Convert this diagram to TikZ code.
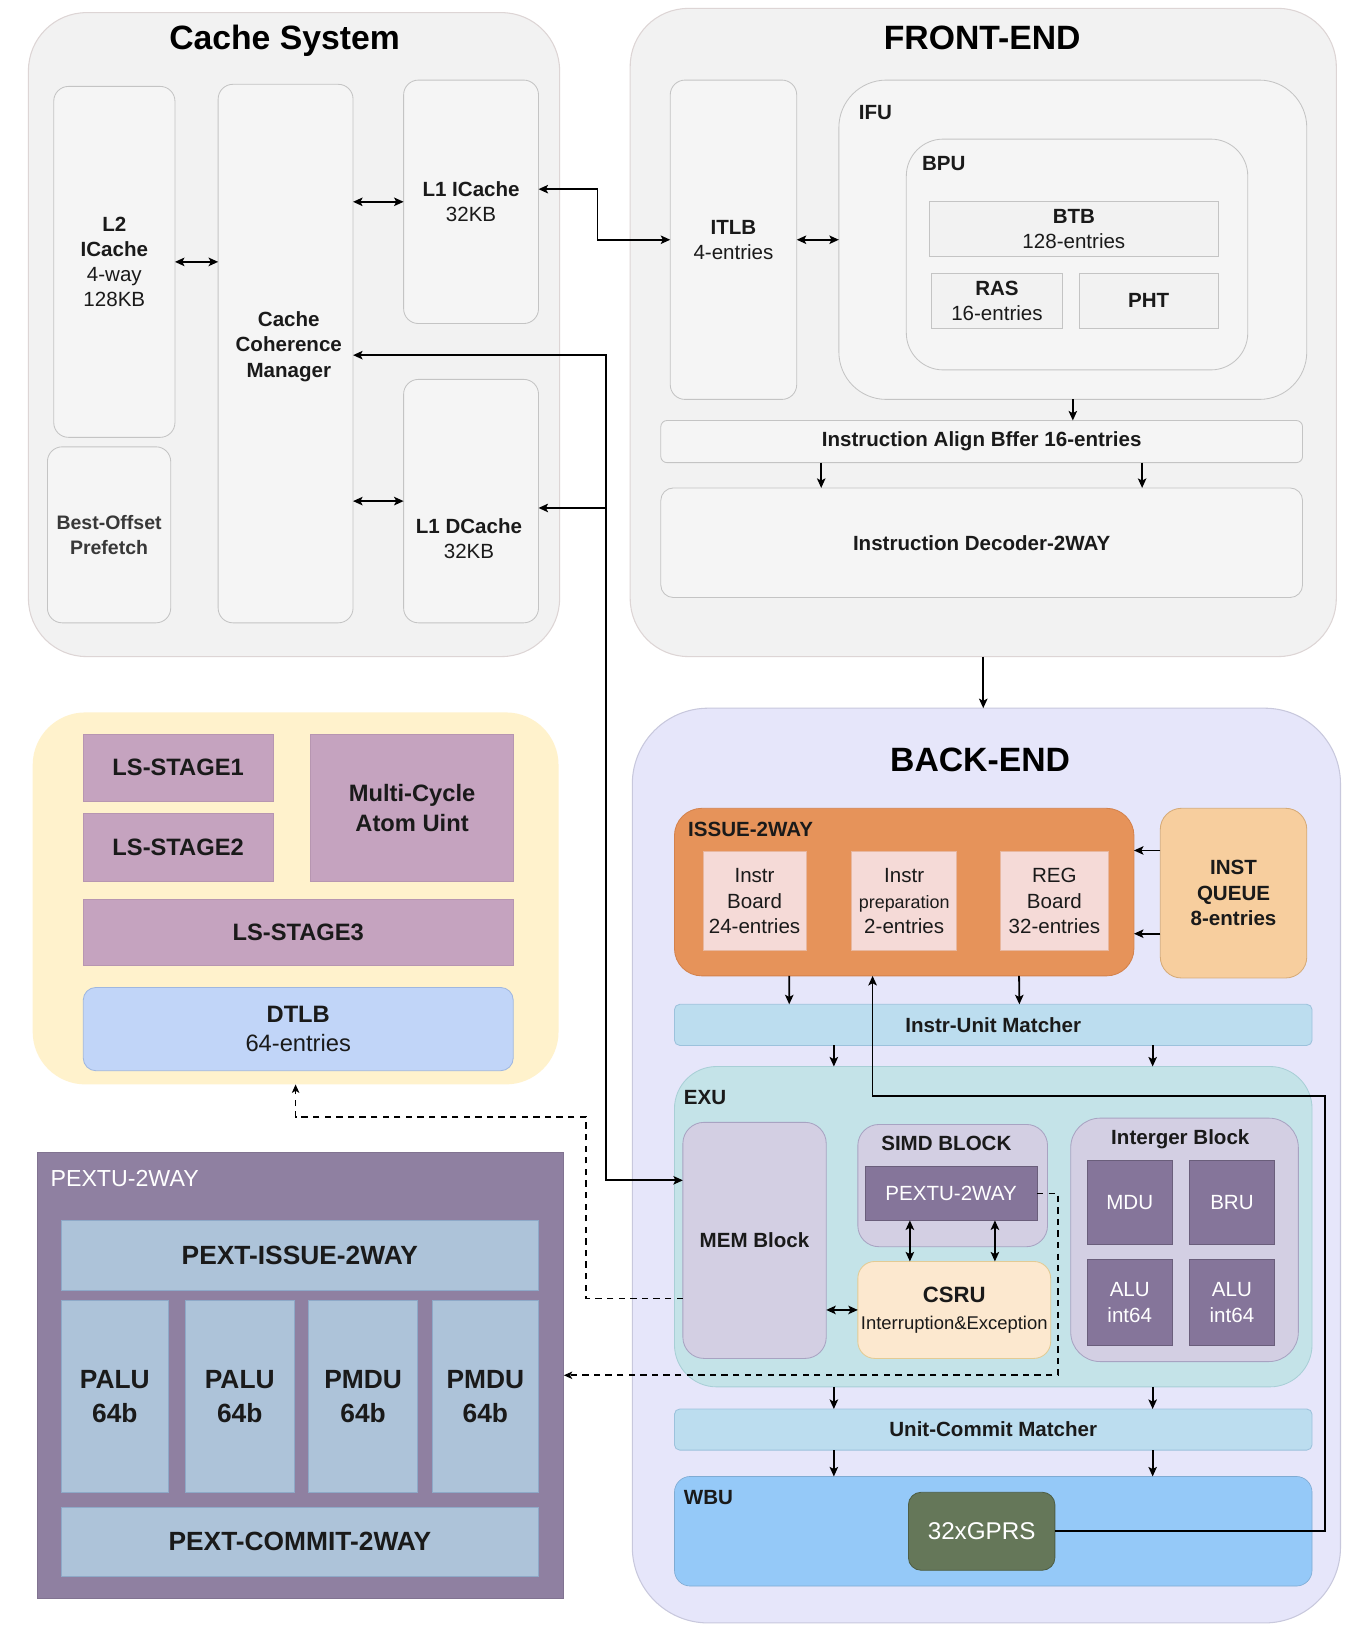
\documentclass[tikz,border=0pt]{standalone}
\usepackage{fontspec}
\setmainfont{Liberation Sans}
\usepackage{tikz}
\usetikzlibrary{calc,positioning,arrows.meta}
\usepackage{xcolor}
\definecolor{panelgray}{HTML}{F2F2F2}
\definecolor{paneledge}{HTML}{DDD5D5}
\definecolor{boxgray}{HTML}{F5F5F5}
\definecolor{boxedge}{HTML}{C4C4C4}
\definecolor{lsyellow}{HTML}{FFF2CC}
\definecolor{lsmauve}{HTML}{C5A3BF}
\definecolor{lsmauveedge}{HTML}{B796B1}
\definecolor{dtlbblue}{HTML}{C1D5F8}
\definecolor{dtlbedge}{HTML}{9FB7E0}
\definecolor{pextpurple}{HTML}{8F80A1}
\definecolor{pextblue}{HTML}{ADC3D9}
\definecolor{pextedge}{HTML}{8EA9C8}
\definecolor{belav}{HTML}{E6E6FA}
\definecolor{beedge}{HTML}{C8C8DD}
\definecolor{issueorange}{HTML}{E6935A}
\definecolor{issueedge}{HTML}{D4824C}
\definecolor{issuepink}{HTML}{F5DAD7}
\definecolor{iqorange}{HTML}{F7CE9E}
\definecolor{iqedge}{HTML}{D6AB78}
\definecolor{matchblue}{HTML}{BCDDEF}
\definecolor{matchedge}{HTML}{9CC2DC}
\definecolor{exuteal}{HTML}{C4E3E8}
\definecolor{exuedge}{HTML}{A8CFD6}
\definecolor{blocklav}{HTML}{D3CFE3}
\definecolor{blockedge}{HTML}{A8A3C2}
\definecolor{unitpurple}{HTML}{85759A}
\definecolor{csrupeach}{HTML}{FCE8CF}
\definecolor{csruedge}{HTML}{E3CB94}
\definecolor{wbublue}{HTML}{95C9F8}
\definecolor{gprgreen}{HTML}{657759}
\definecolor{gpredge}{HTML}{4E5E44}
\definecolor{inktext}{HTML}{1A1A1A}
\newcommand{\fsz}[2]{\fontsize{#1}{#2}\selectfont}

\begin{document}
\begin{tikzpicture}[
        x=1pt, y=-1pt,
        every node/.style={inner sep=0pt, outer sep=0pt},
        outerstyle/.style={draw=paneledge, line width=1pt, fill=panelgray, rounded corners=55pt, anchor=north west},
        titlestyle/.style={font=\bfseries\fsz{32}{38}, text=black},
        labelstyle/.style={anchor=west, font=\bfseries\fsz{19.5}{24}, text=inktext},
        cbox/.style={draw=boxedge, line width=0.8pt, fill=boxgray, rounded corners=14pt, anchor=north west, align=center, font=\fsz{19.5}{24}, text=inktext},
        sbox/.style={draw=boxedge, line width=0.8pt, fill=panelgray, anchor=north west, align=center, font=\fsz{19.5}{24}, text=inktext},
        textstyle/.style={align=center, font=\fsz{19.5}{24}, text=inktext},
        stagestyle/.style={draw=lsmauveedge, line width=0.8pt, fill=lsmauve, anchor=north west, align=center, font=\bfseries\fsz{22.5}{28}, text=inktext},
        dtlbstyle/.style={draw=dtlbedge, line width=0.8pt, fill=dtlbblue, rounded corners=12pt, anchor=north west, align=center, font=\fsz{22.5}{28}, text=inktext},
        pbox/.style={draw=pextedge, line width=0.8pt, fill=pextblue, anchor=north west, align=center, font=\bfseries\fsz{25}{32}, text=inktext},
        ibox/.style={draw=issueedge!40!issuepink, line width=0.8pt, fill=issuepink, anchor=north west, align=center, font=\fsz{19.5}{24}, text=inktext},
        matchstyle/.style={draw=matchedge, line width=0.8pt, fill=matchblue, rounded corners=5pt, anchor=north west, align=center, font=\bfseries\fsz{19.5}{24}, text=inktext},
        blockstyle/.style={draw=blockedge, line width=0.8pt, fill=blocklav, rounded corners=20pt, anchor=north west, align=center, font=\fsz{19.5}{24}, text=inktext},
        unitstyle/.style={draw=unitpurple!80!black, line width=0.6pt, fill=unitpurple, anchor=north west, align=center, font=\fsz{19.5}{24}, text=white},
        pathstyle/.style={-{Stealth[length=9pt,width=8pt,inset=2pt]}, line width=1.7pt},
        bipath/.style={{Stealth[length=9pt,width=8pt,inset=2pt]}-{Stealth[length=9pt,width=8pt,inset=2pt]}, line width=1.7pt},
        dpath/.style={-{Stealth[length=8pt,width=7pt,inset=2pt]}, line width=1.6pt, dash pattern=on 6pt off 5pt}
      ]
        \path[use as bounding box, fill=white] (0,0) rectangle (1300,1560);

        % cache system
        \node[outerstyle, minimum width=504pt, minimum height=611pt] (CACHE)
          at (27,12) {};
        \node[titlestyle] (CACHET)
          at (270,39) {Cache System};
        \node[cbox, minimum width=115pt, minimum height=333pt] (L2IC)
          at (51,82) {\textbf{L2}\\\textbf{ICache}\\4-way\\128KB};
        \node[cbox, minimum width=117pt, minimum height=167pt, text=black!78, font=\bfseries\fsz{18.5}{24}] (BOP)
          at (45,424) {Best-Offset\\Prefetch};
        \node[cbox, minimum width=128pt, minimum height=511pt] (CCM)
          at (207,80) {};
        \node[textstyle, font=\bfseries\fsz{19.5}{24}] (CCMT)
          at (274,329) {Cache\\Coherence\\Manager};
        \node[cbox, minimum width=128pt, minimum height=231pt] (L1IC)
          at (383,76) {\textbf{L1 ICache}\\32KB};
        \node[cbox, minimum width=128pt, minimum height=231pt] (L1DC)
          at (383,360) {};
        \node[textstyle] (L1DCT)
          at (445,511) {\textbf{L1 DCache}\\32KB};

        % front-end
        \node[outerstyle, minimum width=670pt, minimum height=615pt] (FE)
          at (598,8) {};
        \node[titlestyle] (FET)
          at (932,36) {FRONT-END};
        \node[cbox, minimum width=120pt, minimum height=303pt] (ITLB)
          at (636,76) {\textbf{ITLB}\\4-entries};
        \node[cbox, rounded corners=45pt, minimum width=444pt, minimum height=303pt] (IFU)
          at (796,76) {};
        \node[labelstyle] (IFUL)
          at (815,107) {IFU};
        \node[cbox, rounded corners=35pt, minimum width=324pt, minimum height=219pt] (BPU)
          at (860,132) {};
        \node[labelstyle] (BPUL)
          at (875,155) {BPU};
        \node[sbox, minimum width=274pt, minimum height=52pt] (BTB)
          at (882,191) {\textbf{BTB}\\128-entries};
        \node[sbox, minimum width=124pt, minimum height=53pt] (RAS)
          at (884,259) {\textbf{RAS}\\16-entries};
        \node[sbox, minimum width=132pt, minimum height=53pt] (PHT)
          at (1024,259) {\textbf{PHT}};
        \node[cbox, rounded corners=6pt, minimum width=609pt, minimum height=40pt] (IAB)
          at (627,399) {\textbf{Instruction Align Bffer 16-entries}};
        \node[cbox, rounded corners=12pt, minimum width=609pt, minimum height=104pt] (ID)
          at (627,463) {\textbf{Instruction Decoder-2WAY}};

        % load / store unit
        \node[fill=lsyellow, rounded corners=50pt, anchor=north west, minimum width=499pt, minimum height=353pt] (LSU)
          at (31,676) {};
        \node[stagestyle, minimum width=180pt, minimum height=63pt] (LS1)
          at (79,697) {LS-STAGE1};
        \node[stagestyle, minimum width=180pt, minimum height=64pt] (LS2)
          at (79,772) {LS-STAGE2};
        \node[stagestyle, minimum width=192pt, minimum height=139pt] (MCAU)
          at (295,697) {Multi-Cycle\\Atom Uint};
        \node[stagestyle, minimum width=408pt, minimum height=63pt] (LS3)
          at (79,853) {LS-STAGE3};
        \node[dtlbstyle, minimum width=408pt, minimum height=79pt] (DTLB)
          at (79,937) {\textbf{DTLB}\\64-entries};

        % pextu
        \node[draw=pextpurple!90!black, line width=0.6pt, fill=pextpurple, anchor=north west, minimum width=500pt, minimum height=424pt] (PXB)
          at (35,1093) {};
        \node[labelstyle, text=white, font=\fsz{22}{26}] (PXBL)
          at (48,1118) {PEXTU-2WAY};
        \node[pbox, minimum width=453pt, minimum height=66pt] (PISSUE)
          at (58,1158) {PEXT-ISSUE-2WAY};
        \node[pbox, minimum width=102pt, minimum height=182pt] (PALU1)
          at (58,1234) {PALU\\64b};
        \node[pbox, minimum width=103pt, minimum height=182pt] (PALU2)
          at (176,1234) {PALU\\64b};
        \node[pbox, minimum width=103pt, minimum height=182pt] (PMDU1)
          at (293,1234) {PMDU\\64b};
        \node[pbox, minimum width=101pt, minimum height=182pt] (PMDU2)
          at (410,1234) {PMDU\\64b};
        \node[pbox, minimum width=453pt, minimum height=66pt] (PCOMMIT)
          at (58,1430) {PEXT-COMMIT-2WAY};

        % back-end
        \node[draw=beedge, line width=1pt, fill=belav, rounded corners=72pt, anchor=north west, minimum width=672pt, minimum height=868pt] (BE)
          at (600,672) {};
        \node[titlestyle] (BET)
          at (930,721) {BACK-END};
        \node[draw=issueedge, line width=0.8pt, fill=issueorange, rounded corners=26pt, anchor=north west, minimum width=436pt, minimum height=159pt] (ISSUE)
          at (640,767) {};
        \node[labelstyle] (ISSUEL)
          at (653,787) {ISSUE-2WAY};
        \node[ibox, minimum width=98pt, minimum height=94pt] (IBOARD)
          at (667,808) {Instr\\Board\\24-entries};
        \node[ibox, minimum width=100pt, minimum height=94pt] (IPREP)
          at (808,808) {Instr\\{\fsz{17}{24}preparation}\\2-entries};
        \node[ibox, minimum width=103pt, minimum height=94pt] (REGB)
          at (949,808) {REG\\Board\\32-entries};
        \node[draw=iqedge, line width=0.8pt, fill=iqorange, rounded corners=20pt, anchor=north west, align=center, font=\bfseries\fsz{19.5}{24}, text=inktext, minimum width=139pt, minimum height=161pt] (INSTQ)
          at (1101,767) {INST\\QUEUE\\8-entries};
        \node[matchstyle, minimum width=605pt, minimum height=39pt] (IUM)
          at (640,953) {Instr-Unit Matcher};
        \node[draw=exuedge, line width=0.8pt, fill=exuteal, rounded corners=40pt, anchor=north west, minimum width=605pt, minimum height=304pt] (EXU)
          at (640,1012) {};
        \node[labelstyle] (EXUL)
          at (649,1041) {EXU};
        \node[blockstyle, minimum width=136pt, minimum height=224pt] (MEM)
          at (648,1065) {\textbf{MEM Block}};
        \node[blockstyle, minimum width=180pt, minimum height=116pt] (SIMD)
          at (814,1067) {};
        \node[labelstyle, anchor=center] (SIMDL)
          at (898,1085) {SIMD BLOCK};
        \node[unitstyle, minimum width=163pt, minimum height=51pt] (PXS)
          at (821,1107) {PEXTU-2WAY};
        \node[draw=csruedge, line width=0.8pt, fill=csrupeach, rounded corners=16pt, anchor=north west, align=center, text=inktext, font=\fsz{17.5}{26}, minimum width=183pt, minimum height=92pt] (CSRU)
          at (814,1197) {{\bfseries\fsz{21}{26}CSRU}\\Interruption\&Exception};
        \node[blockstyle, rounded corners=28pt, minimum width=216pt, minimum height=231pt] (INTB)
          at (1016,1061) {};
        \node[labelstyle, anchor=center] (INTBL)
          at (1120,1081) {Interger Block};
        \node[unitstyle, minimum width=80pt, minimum height=80pt] (MDU)
          at (1032,1101) {MDU};
        \node[unitstyle, minimum width=80pt, minimum height=80pt] (BRU)
          at (1129,1101) {BRU};
        \node[unitstyle, minimum width=80pt, minimum height=82pt] (ALU1)
          at (1032,1195) {ALU\\int64};
        \node[unitstyle, minimum width=80pt, minimum height=82pt] (ALU2)
          at (1129,1195) {ALU\\int64};
        \node[matchstyle, minimum width=605pt, minimum height=39pt] (UCM)
          at (640,1337) {Unit-Commit Matcher};
        \node[draw=wbublue!85!black, line width=0.6pt, fill=wbublue, rounded corners=15pt, anchor=north west, minimum width=605pt, minimum height=104pt] (WBU)
          at (640,1401) {};
        \node[labelstyle] (WBUL)
          at (649,1421) {WBU};
        \node[draw=gpredge, line width=0.8pt, fill=gprgreen, rounded corners=12pt, anchor=north west, font=\fsz{23}{28}, text=white, minimum width=139pt, minimum height=74pt] (GPR)
          at (862,1416) {32xGPRS};

        % connectors
        \coordinate (BUSTOP) at (575,337);
        \coordinate (BUSMID) at (575,482);
        \coordinate (BUSBOT) at (575,1120);
        \coordinate (FBR) at (1257,1040);
        \coordinate (FBL) at (828,1040);
        \coordinate (DA) at (556,1232);
        \coordinate (DB) at (556,1060);
        \coordinate (DC) at (1004,1305);
        \coordinate (PXA) at ($(PXS.south west)!0.26!(PXS.south east)$);
        \coordinate (PXC) at ($(PXS.south west)!0.755!(PXS.south east)$);

        \draw[bipath] (L2IC.east) -- (L2IC.east -| CCM.west);
        \draw[bipath] (CCM.east |- L1IC.west) -- (L1IC.west);
        \draw[bipath] (CCM.east |- L1DC.west) -- (L1DC.west);
        \draw[bipath] ($(L1IC.east)+(0,-12)$) -- ++(56,0) |- (ITLB.west);
        \draw[bipath] (ITLB.east) -- (ITLB.east -| IFU.west);
        \draw[pathstyle] (IFU.south) -- (IFU.south |- IAB.north);
        \draw[pathstyle] ($(IAB.south west)!0.25!(IAB.south east)$) -- ($(ID.north west)!0.25!(ID.north east)$);
        \draw[pathstyle] ($(IAB.south west)!0.75!(IAB.south east)$) -- ($(ID.north west)!0.75!(ID.north east)$);
        \draw[pathstyle] (FE.south) -- (FE.south |- BE.north);

        \draw[bipath] (CCM.east |- BUSTOP) -- (BUSTOP) -- (BUSBOT) -- (BUSBOT -| MEM.west);
        \draw[pathstyle] (BUSMID) -- (BUSMID -| L1DC.east);

        \draw[pathstyle] ($(INSTQ.north west)+(0,40)$) -- ($(ISSUE.north east)+(0,40)$);
        \draw[pathstyle] ($(INSTQ.south west)+(0,-42)$) -- ($(ISSUE.south east)+(0,-40)$);
        \draw[pathstyle] ($(ISSUE.south west)!0.25!(ISSUE.south east)$) -- ($(IUM.north west)!0.18!(IUM.north east)$);
        \draw[pathstyle] ($(ISSUE.south west)!0.75!(ISSUE.south east)$) -- ($(IUM.north west)!0.541!(IUM.north east)$);
        \draw[pathstyle] ($(IUM.south west)!0.25!(IUM.south east)$) -- ($(EXU.north west)!0.25!(EXU.north east)$);
        \draw[pathstyle] ($(IUM.south west)!0.75!(IUM.south east)$) -- ($(EXU.north west)!0.75!(EXU.north east)$);
        \draw[pathstyle] ($(EXU.south west)!0.25!(EXU.south east)$) -- ($(UCM.north west)!0.25!(UCM.north east)$);
        \draw[pathstyle] ($(EXU.south west)!0.75!(EXU.south east)$) -- ($(UCM.north west)!0.75!(UCM.north east)$);
        \draw[pathstyle] ($(UCM.south west)!0.25!(UCM.south east)$) -- ($(WBU.north west)!0.25!(WBU.north east)$);
        \draw[pathstyle] ($(UCM.south west)!0.75!(UCM.south east)$) -- ($(WBU.north west)!0.75!(WBU.north east)$);

        \draw[bipath] (PXA) -- (PXA |- CSRU.north);
        \draw[bipath] (PXC) -- (PXC |- CSRU.north);
        \draw[bipath] (CSRU.west) -- (CSRU.west -| MEM.east);

        \draw[pathstyle] (GPR.east) -| (FBR) -- (FBL) -- (FBL |- ISSUE.south);

        \draw[dpath] (DA -| MEM.west) -- (DA) -- (DB) -| (LSU.south);
        \draw[dpath] (PXS.east) -| (DC) -- (DC -| PXB.east);
      \end{tikzpicture}
\end{document}
